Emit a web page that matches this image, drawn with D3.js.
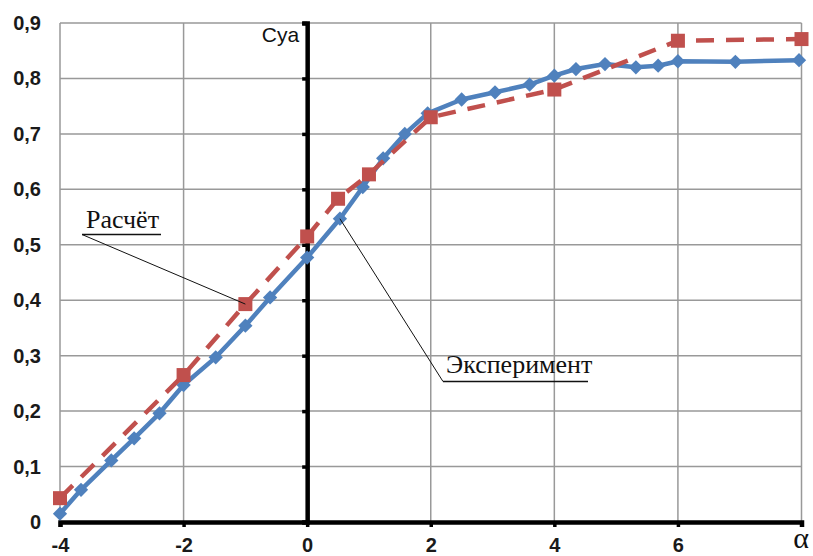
<!DOCTYPE html>
<html>
<head>
<meta charset="utf-8">
<script src="https://cdn.jsdelivr.net/npm/d3@7"></script>
<style>
  html, body { margin: 0; padding: 0; background: #fff; }
  svg { display: block; }
</style>
</head>
<body>
<div id="container"></div>
<script>
// angle of attack α and lift coefficient Cya
const expAlpha = [-4, -3.66, -3.17, -2.8, -2.39, -2, -1.48, -1, -0.6, 0, 0.53, 0.9, 1.23, 1.58, 1.95,
                  2.5, 3.04, 3.6, 4.0, 4.35, 4.82, 5.32, 5.68, 6.0, 6.93, 7.96];
const expCya   = [0.015, 0.058, 0.111, 0.151, 0.196, 0.247, 0.297, 0.354, 0.405, 0.477, 0.547, 0.604, 0.656, 0.700, 0.737,
                  0.762, 0.775, 0.789, 0.805, 0.817, 0.826, 0.820, 0.823, 0.831, 0.830, 0.833];

const calcAlpha = [-4, -2, -1, 0, 0.5, 1, 2, 4, 6, 8];
const calcCya   = [0.043, 0.265, 0.393, 0.515, 0.583, 0.627, 0.730, 0.780, 0.868, 0.871];

const xTicks = [-4, -2, 0, 2, 4, 6, 8];
const xTickLabels = ["-4", "-2", "0", "2", "4", "6", ""];
const yTicks = [0, 0.1, 0.2, 0.3, 0.4, 0.5, 0.6, 0.7, 0.8, 0.9];

const width  = 813;
const height = 556;
const margin = { top: 23, right: 11, bottom: 34, left: 60 };

const expData  = expAlpha.map((a, i) => ({ a, c: expCya[i] }));
const calcData = calcAlpha.map((a, i) => ({ a, c: calcCya[i] }));

const svg = d3.select("#container")
  .append("svg")
    .attr("width", width)
    .attr("height", height);

const x = d3.scaleLinear()
  .domain([-4, 8])
  .range([margin.left, width - margin.right - 0.5]);

const y = d3.scaleLinear()
  .domain([0, 0.9])
  .range([height - margin.bottom, margin.top]);

// Grid
svg.append("g")
  .selectAll("line")
  .data(xTicks)
  .join("line")
    .attr("x1", d => x(d)).attr("x2", d => x(d))
    .attr("y1", y(0)).attr("y2", y(0.9))
    .attr("stroke", "#999").attr("stroke-width", 1.5);

svg.append("g")
  .selectAll("line")
  .data(yTicks)
  .join("line")
    .attr("x1", x(-4)).attr("x2", x(8))
    .attr("y1", d => y(d)).attr("y2", d => y(d))
    .attr("stroke", "#999").attr("stroke-width", 1.5);

// Y tick labels (left of plot)
svg.append("g")
  .selectAll("text")
  .data(yTicks)
  .join("text")
    .attr("x", 41)
    .attr("y", d => y(d))
    .attr("dy", "0.35em")
    .attr("text-anchor", "end")
    .attr("font-family", "Liberation Sans, Arial, sans-serif")
    .attr("font-weight", "bold")
    .attr("font-size", 20)
    .attr("fill", "#1a1a1a")
    .text(d => d === 0 ? "0" : d3.format(".1f")(d).replace(".", ","));

// X axis at Cya = 0
const xAxis = svg.append("g")
  .attr("transform", `translate(0,${y(0)})`)
  .call(d3.axisBottom(x).tickValues(xTicks).tickSize(5).tickFormat((d, i) => xTickLabels[i]));
xAxis.select(".domain").attr("stroke", "#000").attr("stroke-width", 4.5);
xAxis.selectAll(".tick line").attr("stroke", "#000").attr("stroke-width", 3.5);
xAxis.selectAll(".tick text")
  .attr("font-family", "Liberation Sans, Arial, sans-serif")
  .attr("font-weight", "bold")
  .attr("font-size", 20)
  .attr("fill", "#1a1a1a")
  .attr("dy", "0.71em")
  .attr("y", 16);

// Y axis at α = 0
const yAxis = svg.append("g")
  .attr("transform", `translate(${x(0)},0)`)
  .call(d3.axisLeft(y).tickValues(yTicks).tickSize(5).tickFormat(""));
yAxis.select(".domain").attr("stroke", "#000").attr("stroke-width", 4.5);
yAxis.selectAll(".tick line").attr("stroke", "#000").attr("stroke-width", 3.5);

// Axis titles
svg.append("text")
  .attr("x", x(0) - 8)
  .attr("y", 42)
  .attr("text-anchor", "end")
  .attr("font-family", "Liberation Sans, Arial, sans-serif")
  .attr("font-size", 21)
  .attr("fill", "#111")
  .text("Cya");

svg.append("text")
  .attr("x", 801)
  .attr("y", 548)
  .attr("text-anchor", "middle")
  .attr("font-family", "Liberation Serif, Times New Roman, serif")
  .attr("font-size", 30)
  .attr("fill", "#111")
  .text("α");

// Experiment series (blue, diamonds)
const line = d3.line().x(d => x(d.a)).y(d => y(d.c));

svg.append("path")
  .datum(expData)
  .attr("d", line)
  .attr("fill", "none")
  .attr("stroke", "#4F81BD")
  .attr("stroke-width", 4.5)
  .attr("stroke-linejoin", "round");

svg.append("g")
  .selectAll("path")
  .data(expData)
  .join("path")
    .attr("transform", d => `translate(${x(d.a)},${y(d.c)})`)
    .attr("d", d3.symbol(d3.symbolDiamond2, 130))
    .attr("fill", "#4F81BD");

// Calculation series (red, dashed, squares)
svg.append("path")
  .datum(calcData)
  .attr("d", line)
  .attr("fill", "none")
  .attr("stroke", "#C0504D")
  .attr("stroke-width", 4.5)
  .attr("stroke-dasharray", "18,12");

svg.append("g")
  .selectAll("rect")
  .data(calcData)
  .join("rect")
    .attr("x", d => x(d.a) - 7)
    .attr("y", d => y(d.c) - 7)
    .attr("width", 14)
    .attr("height", 14)
    .attr("fill", "#C0504D");

// Annotations
const ann = svg.append("g")
  .attr("font-family", "Liberation Serif, Times New Roman, serif")
  .attr("font-size", 26)
  .attr("fill", "#111");

ann.append("text").attr("x", 86).attr("y", 228).text("Расчёт");
ann.append("line")
  .attr("x1", 82).attr("y1", 234.5).attr("x2", 161).attr("y2", 234.5)
  .attr("stroke", "#111").attr("stroke-width", 1.5);
ann.append("line")
  .attr("x1", 82).attr("y1", 234.5)
  .attr("x2", x(calcAlpha[2])).attr("y2", y(calcCya[2]))
  .attr("stroke", "#111").attr("stroke-width", 1);

ann.append("text").attr("x", 446).attr("y", 373).text("Эксперимент");
ann.append("line")
  .attr("x1", 443).attr("y1", 381.5).attr("x2", 588).attr("y2", 381.5)
  .attr("stroke", "#111").attr("stroke-width", 1.5);
ann.append("line")
  .attr("x1", 443).attr("y1", 381.5)
  .attr("x2", x(expAlpha[10])).attr("y2", y(expCya[10]))
  .attr("stroke", "#111").attr("stroke-width", 1);
</script>
</body>
</html>
